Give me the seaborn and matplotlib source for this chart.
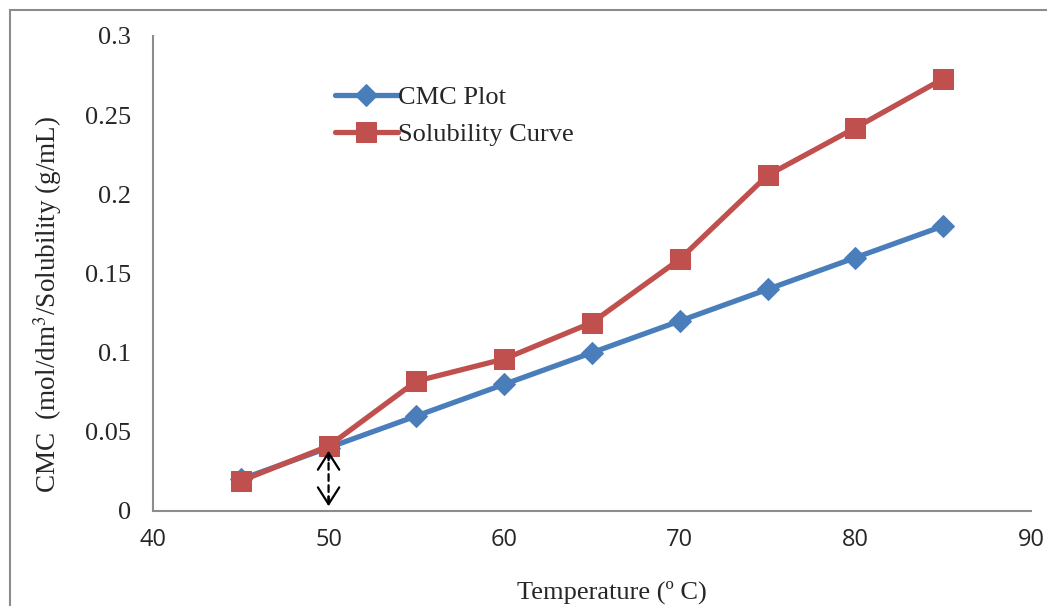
import numpy as np
import pandas as pd
import matplotlib
matplotlib.use("Agg")
import matplotlib.pyplot as plt
import seaborn as sns

# data
temperature = [45, 50, 55, 60, 65, 70, 75, 80, 85]
cmc_plot = [0.02, 0.04, 0.06, 0.08, 0.10, 0.12, 0.14, 0.16, 0.18]
solubility = [0.019, 0.041, 0.082, 0.096, 0.119, 0.159, 0.212, 0.242, 0.273]

sns.set_style("white")
plt.rcParams["font.family"] = ["Liberation Serif", "DejaVu Serif"]
plt.rcParams["mathtext.fontset"] = "stix"

fig = plt.figure(figsize=(10.47, 6.06), dpi=100)
ax = fig.add_axes([0.1461, 0.1568, 0.8386, 0.7838])

# outer chart frame (cut off at right/bottom in the reference)
fig.patches.append(plt.Rectangle((10 / 1047, -0.05), 1.2, 1 - 10 / 606 + 0.05,
                                 transform=fig.transFigure, fill=False,
                                 edgecolor="#8c8c8c", linewidth=1.5))

blue = "#4a7ebb"
red = "#c0504d"
df = pd.DataFrame({"temp": temperature, "cmc": cmc_plot, "sol": solubility})
sns.lineplot(data=df, x="temp", y="cmc", ax=ax, color=blue, linewidth=3.8,
             marker="D", markersize=11, markeredgecolor=blue,
             label="CMC Plot")
sns.lineplot(data=df, x="temp", y="sol", ax=ax, color=red, linewidth=3.8,
             marker="s", markersize=14, markeredgecolor=red,
             label="Solubility Curve")

# dashed double arrow under the 50 °C point: dashed shaft + solid open heads
arrow_x, arrow_top, arrow_bot = 50, 0.038, 0.003
ax.annotate("", xy=(arrow_x, arrow_top - 0.002), xytext=(arrow_x, arrow_bot + 0.002),
            arrowprops=dict(arrowstyle="-", linestyle=(0, (3, 2)), color="black",
                            lw=1.6, shrinkA=0, shrinkB=0))
for tip, tail in [(arrow_top, arrow_top - 0.006), (arrow_bot, arrow_bot + 0.006)]:
    ax.annotate("", xy=(arrow_x, tip), xytext=(arrow_x, tail),
                arrowprops=dict(arrowstyle="->,head_length=0.55,head_width=0.35",
                                color="black", lw=1.6, mutation_scale=22,
                                shrinkA=0, shrinkB=0))

ax.set_xlim(40, 90)
ax.set_ylim(0, 0.3)
ax.set_xticks(np.arange(40, 91, 10))
ax.set_yticks(np.arange(0, 0.31, 0.05))
ax.set_yticklabels(["0", "0.05", "0.1", "0.15", "0.2", "0.25", "0.3"])

for s in ["top", "right"]:
    ax.spines[s].set_visible(False)
for s in ["left", "bottom"]:
    ax.spines[s].set_color("#8c8c8c")
    ax.spines[s].set_linewidth(1.5)
ax.tick_params(axis="both", direction="out", length=6, width=1.5,
               color="#8c8c8c")
ax.tick_params(axis="y", labelsize=19, pad=10)
ax.tick_params(axis="x", labelsize=17, pad=6)
for lbl in ax.get_xticklabels():
    lbl.set_family(["Open Sans", "DejaVu Sans"])

ax.set_xlabel("Temperature (º C)", fontsize=19)
ax.xaxis.set_label_coords(0.523, -0.147)
ax.set_ylabel("CMC  (mol/dm$^{3}$/Solubility (g/mL)", fontsize=19.5)
ax.yaxis.set_label_coords(-0.101, 0.436)

ax.legend(loc="upper left", bbox_to_anchor=(0.18, 0.945), frameon=False,
          fontsize=19, handlelength=2.4, handletextpad=0.0, labelspacing=0.5)

fig.savefig("out.png", dpi=100)
